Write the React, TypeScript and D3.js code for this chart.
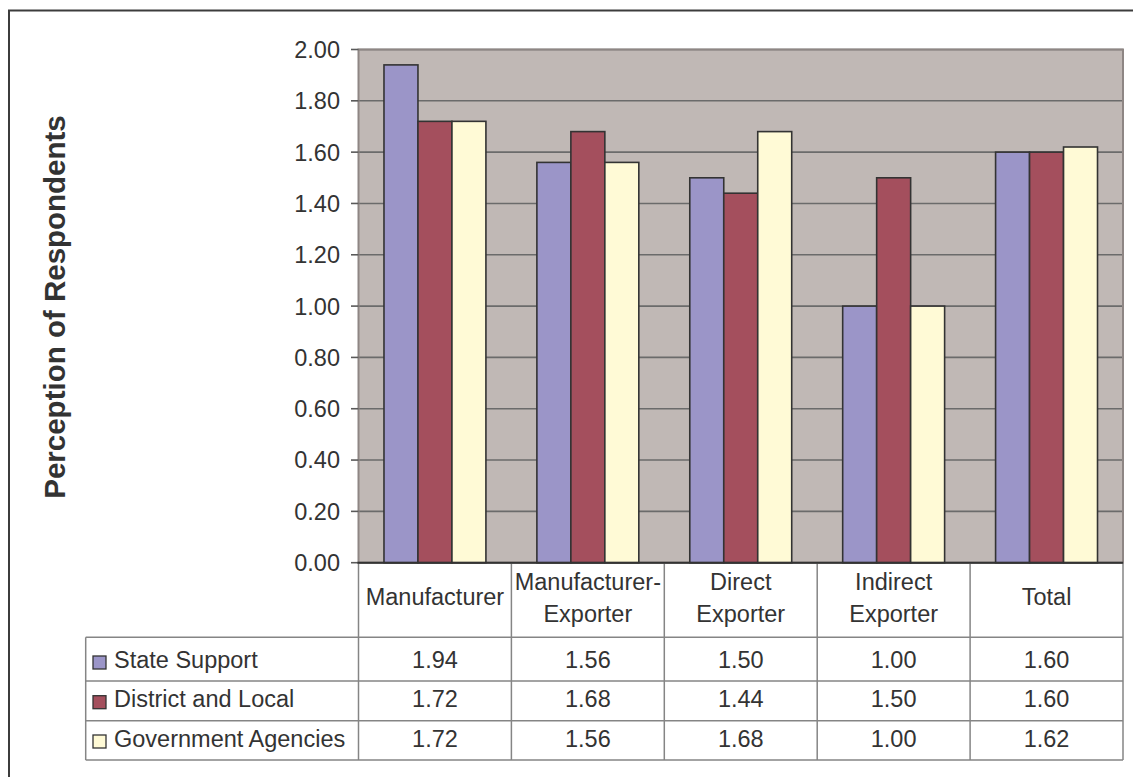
import React from "react";
import * as d3 from "d3";

// Perception scores by respondent type
const categories: string[] = [
  "Manufacturer",
  "Manufacturer-\nExporter",
  "Direct\nExporter",
  "Indirect\nExporter",
  "Total",
];
const seriesNames: string[] = ["State Support", "District and Local", "Government Agencies"];
const stateSupport: number[] = [1.94, 1.56, 1.5, 1.0, 1.6];
const districtLocal: number[] = [1.72, 1.68, 1.44, 1.5, 1.6];
const governmentAgencies: number[] = [1.72, 1.56, 1.68, 1.0, 1.62];
const seriesColors: string[] = ["#9B95C8", "#A44F5D", "#FFFAD6"];
const yTickValues: number[] = [0, 0.2, 0.4, 0.6, 0.8, 1.0, 1.2, 1.4, 1.6, 1.8, 2.0];
const yTitle = "Perception of Respondents";

const W = 1133;
const H = 777;
const FONT = "Arial, 'Liberation Sans', sans-serif";
const TEXT = "#333333";

export default function App() {
  const seriesValues = [stateSupport, districtLocal, governmentAgencies];

  const plotLeft = 358.5;
  const plotRight = 1123;
  const plotTop = 49.5;
  const plotBottom = 562.7;
  const tableLeft = 85.7;
  // row boundaries of the data table (top of first row, then each row's bottom)
  const rowEdges = [637.3, 681, 720.7, 760];
  const tableTop = rowEdges[0];
  const tableBottom = rowEdges[rowEdges.length - 1];

  const y = d3.scaleLinear().domain([0, 2]).range([plotBottom, plotTop]);
  const x = d3.scaleBand<string>().domain(categories).range([plotLeft, plotRight]).padding(0);
  const xs = d3
    .scaleBand<string>()
    .domain(seriesNames)
    .range([0, x.bandwidth()])
    .paddingInner(0)
    .paddingOuter(0.75);
  const fmt = d3.format(".2f");

  const gridColor = "#6b6b6b";
  const tableLine = "#858585";

  return (
    <svg
      width={W}
      height={H}
      viewBox={`0 0 ${W} ${H}`}
      style={{ position: "absolute", left: 0, top: 0, background: "#ffffff" }}
      fontFamily={FONT}
    >
      <rect x={0} y={0} width={W} height={H} fill="#ffffff" />
      {/* chart frame */}
      <rect x={9} y={10.5} width={W + 40} height={H + 40} fill="none" stroke="#3c3c3c" strokeWidth={2} />

      {/* plot area */}
      <rect x={plotLeft} y={plotTop} width={plotRight - plotLeft} height={plotBottom - plotTop} fill="#C0B8B5" />
      {yTickValues.map((t) => (
        <line
          key={"g" + t}
          x1={plotLeft}
          x2={plotRight}
          y1={y(t)}
          y2={y(t)}
          stroke={gridColor}
          strokeWidth={1.6}
        />
      ))}
      <rect
        x={plotLeft}
        y={plotTop}
        width={plotRight - plotLeft}
        height={plotBottom - plotTop}
        fill="none"
        stroke="#8e8684"
        strokeWidth={2}
      />

      {/* bars */}
      {categories.map((c, ci) =>
        seriesNames.map((s, si) => {
          const v = seriesValues[si][ci];
          const bx = (x(c) as number) + (xs(s) as number);
          return (
            <rect
              key={c + s}
              x={bx}
              y={y(v)}
              width={xs.bandwidth()}
              height={plotBottom - y(v)}
              fill={seriesColors[si]}
              stroke="#333333"
              strokeWidth={1.6}
            />
          );
        })
      )}

      {/* value axis */}
      {yTickValues.map((t) => (
        <g key={"t" + t}>
          <line x1={351} x2={plotLeft} y1={y(t)} y2={y(t)} stroke="#5a5a5a" strokeWidth={1.6} />
          <text x={340} y={y(t) + 8.4} textAnchor="end" fontSize={23.5} fill={TEXT}>
            {fmt(t)}
          </text>
        </g>
      ))}
      <text
        transform={`translate(64.5, 307) rotate(-90)`}
        textAnchor="middle"
        fontSize={29.5}
        fontWeight="bold"
        fill={TEXT}
      >
        {yTitle}
      </text>

      {/* data table */}
      {d3.range(categories.length + 1).map((i) => {
        const lx = plotLeft + i * x.step();
        return (
          <line
            key={"v" + i}
            x1={lx}
            x2={lx}
            y1={plotBottom}
            y2={tableBottom}
            stroke={tableLine}
            strokeWidth={1.5}
          />
        );
      })}
      <line x1={tableLeft} x2={tableLeft} y1={tableTop} y2={tableBottom} stroke={tableLine} strokeWidth={1.5} />
      {rowEdges.map((ly, i) => (
        <line key={"h" + i} x1={tableLeft} x2={plotRight} y1={ly} y2={ly} stroke={tableLine} strokeWidth={1.5} />
      ))}
      {/* x axis line */}
      <line x1={plotLeft - 1} x2={plotRight} y1={plotBottom} y2={plotBottom} stroke="#333333" strokeWidth={2} />

      {/* category labels */}
      {categories.map((c) => {
        const lines = c.split("\n");
        const cx = (x(c) as number) + x.bandwidth() / 2;
        return (
          <text key={"c" + c} textAnchor="middle" fontSize={23.5} fill={TEXT}>
            {lines.length === 1 ? (
              <tspan x={cx} y={605}>
                {lines[0]}
              </tspan>
            ) : (
              lines.map((ln, li) => (
                <tspan key={li} x={cx} y={590 + li * 31.7}>
                  {ln}
                </tspan>
              ))
            )}
          </text>
        );
      })}

      {/* legend keys, series names and values */}
      {seriesNames.map((s, si) => {
        const base = rowEdges[si + 1] - 13.5;
        return (
          <g key={"r" + s}>
            <rect
              x={93}
              y={base - 11.5}
              width={13}
              height={13}
              fill={seriesColors[si]}
              stroke="#333333"
              strokeWidth={1.3}
            />
            <text x={114} y={base} fontSize={23.5} fill={TEXT}>
              {s}
            </text>
            {categories.map((c, ci) => (
              <text
                key={c}
                x={(x(c) as number) + x.bandwidth() / 2}
                y={base}
                textAnchor="middle"
                fontSize={23.5}
                fill={TEXT}
              >
                {fmt(seriesValues[si][ci])}
              </text>
            ))}
          </g>
        );
      })}
    </svg>
  );
}
